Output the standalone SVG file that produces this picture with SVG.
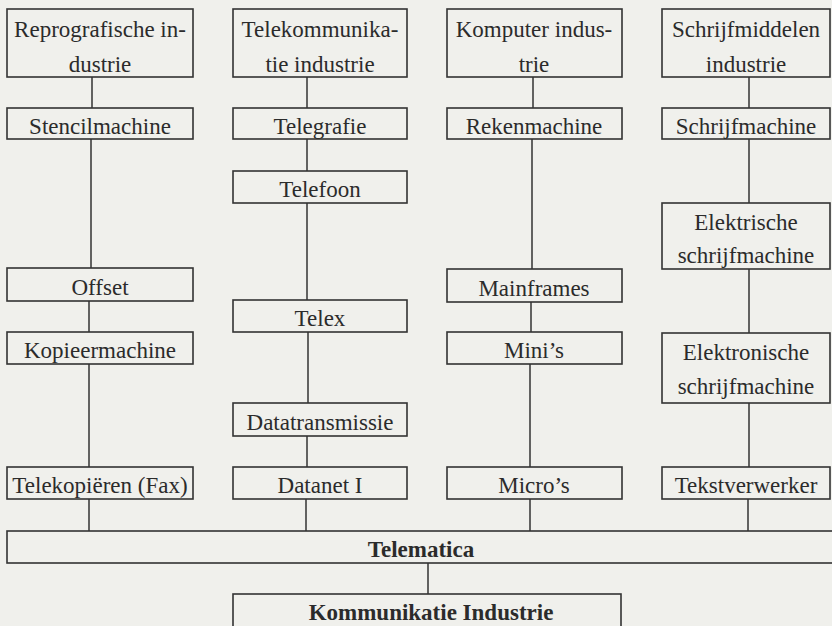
<svg xmlns="http://www.w3.org/2000/svg" width="832" height="626" viewBox="0 0 832 626">
<style>
.bx{fill:none;stroke:#333;stroke-width:1.6}
.t{font-family:"Liberation Serif","Times New Roman",serif;font-size:23px;fill:#2b2b2b;text-anchor:middle}
.b{font-weight:bold}
.c line{stroke:#333;stroke-width:1.5}
</style>
<rect x="0" y="0" width="832" height="626" fill="#f0f0ec"/>
<g class="c" id="connectors">
<line x1="92" y1="77" x2="92" y2="108"/>
<line x1="91" y1="139" x2="91" y2="268"/>
<line x1="89" y1="301" x2="89" y2="332"/>
<line x1="89" y1="364" x2="89" y2="467"/>
<line x1="89" y1="499" x2="89" y2="531"/>
<line x1="307" y1="77" x2="307" y2="108"/>
<line x1="307" y1="139" x2="307" y2="171"/>
<line x1="307" y1="203" x2="307" y2="300"/>
<line x1="308" y1="332" x2="308" y2="403"/>
<line x1="307" y1="436" x2="307" y2="467"/>
<line x1="306" y1="499" x2="306" y2="531"/>
<line x1="533" y1="77" x2="533" y2="108"/>
<line x1="532" y1="139" x2="532" y2="269"/>
<line x1="531" y1="302" x2="531" y2="332"/>
<line x1="530" y1="364" x2="530" y2="467"/>
<line x1="530" y1="499" x2="530" y2="531"/>
<line x1="749" y1="77" x2="749" y2="108"/>
<line x1="749" y1="139" x2="749" y2="203"/>
<line x1="749" y1="269" x2="749" y2="333"/>
<line x1="749" y1="403" x2="749" y2="467"/>
<line x1="748" y1="499" x2="748" y2="531"/>
<line x1="428" y1="563" x2="428" y2="594"/>
</g>
<g id="n-repro"><rect class="bx" x="7" y="9" width="186" height="68"/><text class="t" x="100" y="37">Reprografische in-</text><text class="t" x="100" y="72">dustrie</text></g>
<g id="n-stencil"><rect class="bx" x="7" y="108" width="186" height="31"/><text class="t" x="100" y="134">Stencilmachine</text></g>
<g id="n-offset"><rect class="bx" x="7" y="268" width="186" height="33"/><text class="t" x="100" y="295">Offset</text></g>
<g id="n-kopieer"><rect class="bx" x="7" y="332" width="186" height="32"/><text class="t" x="100" y="358">Kopieermachine</text></g>
<g id="n-fax"><rect class="bx" x="7" y="467" width="186" height="32"/><text class="t" x="100" y="493">Telekopiëren (Fax)</text></g>

<g id="n-telekom"><rect class="bx" x="233" y="9" width="174" height="68"/><text class="t" x="320" y="37">Telekommunika-</text><text class="t" x="320" y="72">tie industrie</text></g>
<g id="n-telegrafie"><rect class="bx" x="233" y="108" width="174" height="31"/><text class="t" x="320" y="134">Telegrafie</text></g>
<g id="n-telefoon"><rect class="bx" x="233" y="171" width="174" height="32"/><text class="t" x="320" y="197">Telefoon</text></g>
<g id="n-telex"><rect class="bx" x="233" y="300" width="174" height="32"/><text class="t" x="320" y="326">Telex</text></g>
<g id="n-datatrans"><rect class="bx" x="233" y="403" width="174" height="33"/><text class="t" x="320" y="430">Datatransmissie</text></g>
<g id="n-datanet"><rect class="bx" x="233" y="467" width="174" height="32"/><text class="t" x="320" y="493">Datanet I</text></g>

<g id="n-komputer"><rect class="bx" x="447" y="9" width="175" height="68"/><text class="t" x="534" y="37">Komputer indus-</text><text class="t" x="534" y="72">trie</text></g>
<g id="n-reken"><rect class="bx" x="447" y="108" width="175" height="31"/><text class="t" x="534" y="134">Rekenmachine</text></g>
<g id="n-mainframes"><rect class="bx" x="447" y="269" width="175" height="33"/><text class="t" x="534" y="296">Mainframes</text></g>
<g id="n-minis"><rect class="bx" x="447" y="332" width="175" height="32"/><text class="t" x="534" y="358">Mini’s</text></g>
<g id="n-micros"><rect class="bx" x="447" y="467" width="175" height="32"/><text class="t" x="534" y="493">Micro’s</text></g>

<g id="n-schrijfmiddelen"><rect class="bx" x="662" y="9" width="168" height="68"/><text class="t" x="746" y="37">Schrijfmiddelen</text><text class="t" x="746" y="72">industrie</text></g>
<g id="n-schrijfmachine"><rect class="bx" x="662" y="108" width="168" height="31"/><text class="t" x="746" y="134">Schrijfmachine</text></g>
<g id="n-elektrisch"><rect class="bx" x="662" y="203" width="168" height="66"/><text class="t" x="746" y="230">Elektrische</text><text class="t" x="746" y="263">schrijfmachine</text></g>
<g id="n-elektronisch"><rect class="bx" x="662" y="333" width="168" height="70"/><text class="t" x="746" y="360">Elektronische</text><text class="t" x="746" y="394">schrijfmachine</text></g>
<g id="n-tekst"><rect class="bx" x="662" y="467" width="168" height="32"/><text class="t" x="746" y="493">Tekstverwerker</text></g>

<g id="n-telematica"><rect class="bx" x="7" y="531" width="830" height="32"/><text class="t b" x="421" y="557">Telematica</text></g>
<g id="n-kommunikatie"><rect class="bx" x="233" y="594" width="388" height="40"/><text class="t b" x="431" y="620">Kommunikatie Industrie</text></g>
</svg>
